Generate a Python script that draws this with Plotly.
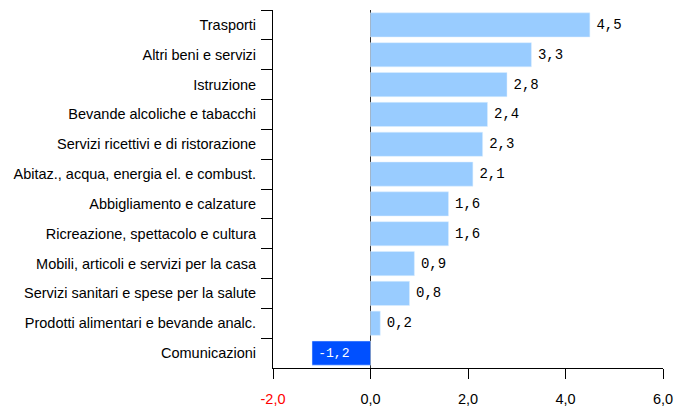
import plotly.graph_objects as go

categories = [
    "Trasporti",
    "Altri beni e servizi",
    "Istruzione",
    "Bevande alcoliche e tabacchi",
    "Servizi ricettivi e di ristorazione",
    "Abitaz., acqua, energia el. e combust.",
    "Abbigliamento e calzature",
    "Ricreazione, spettacolo e cultura",
    "Mobili, articoli e servizi per la casa",
    "Servizi sanitari e spese per la salute",
    "Prodotti alimentari e bevande analc.",
    "Comunicazioni",
]
values = [4.5, 3.3, 2.8, 2.4, 2.3, 2.1, 1.6, 1.6, 0.9, 0.8, 0.2, -1.2]
tick_vals = [-2, 0, 2, 4, 6]
tick_text = ["<span style='color:#FF0000'>-2,0</span>", "0,0", "2,0", "4,0", "6,0"]

colors = ["#0050FF" if v < 0 else "#99CCFF" for v in values]
positions = ["inside" if v < 0 else "outside" for v in values]
text_colors = ["#FFFFFF" if v < 0 else "#000000" for v in values]
labels = ["\u2005" + f"{v:.1f}".replace(".", ",") for v in values]

fig = go.Figure(
    go.Bar(
        x=values,
        y=categories,
        orientation="h",
        marker=dict(color=colors, line=dict(color="#DDEEFF", width=0.5)),
        text=labels,
        textposition=positions,
        insidetextanchor="end",
        textfont=dict(family="Liberation Mono", size=14, color=text_colors),
        outsidetextfont=dict(family="Liberation Mono", size=14, color="#000000"),
        insidetextfont=dict(family="Liberation Mono", size=13, color="#FFFFFF"),
        cliponaxis=False,
        hoverinfo="skip",
    )
)

fig.update_layout(
    width=677,
    height=407,
    margin=dict(l=273, r=14, t=10, b=39),
    paper_bgcolor="white",
    plot_bgcolor="white",
    bargap=0.19,
    showlegend=False,
    font=dict(family="Liberation Sans", size=14, color="#000000"),
    xaxis=dict(
        range=[-2, 6],
        tickmode="array",
        tickvals=tick_vals,
        ticktext=tick_text,
        ticks="outside",
        ticklen=10,
        tickcolor="#000000",
        showline=True,
        linecolor="#000000",
        linewidth=1,
        showgrid=False,
        zeroline=True,
        zerolinecolor="#333333",
        zerolinewidth=1,
        automargin=False,
        ticklabelstandoff=8,
        tickfont=dict(size=14.5, family="Liberation Sans"),
    ),
    yaxis=dict(
        categoryorder="array",
        categoryarray=categories,
        autorange="reversed",
        ticks="outside",
        tickson="boundaries",
        ticklen=11,
        tickcolor="#000000",
        showline=True,
        linecolor="#000000",
        linewidth=1,
        showgrid=False,
        automargin=False,
        ticklabelstandoff=13,
        tickfont=dict(size=14.5, family="Liberation Sans"),
    ),
)

fig.write_html(
    "out.html",
    config={"displayModeBar": False},
    post_script="document.body.style.margin='0';document.body.style.overflow='hidden';",
)
